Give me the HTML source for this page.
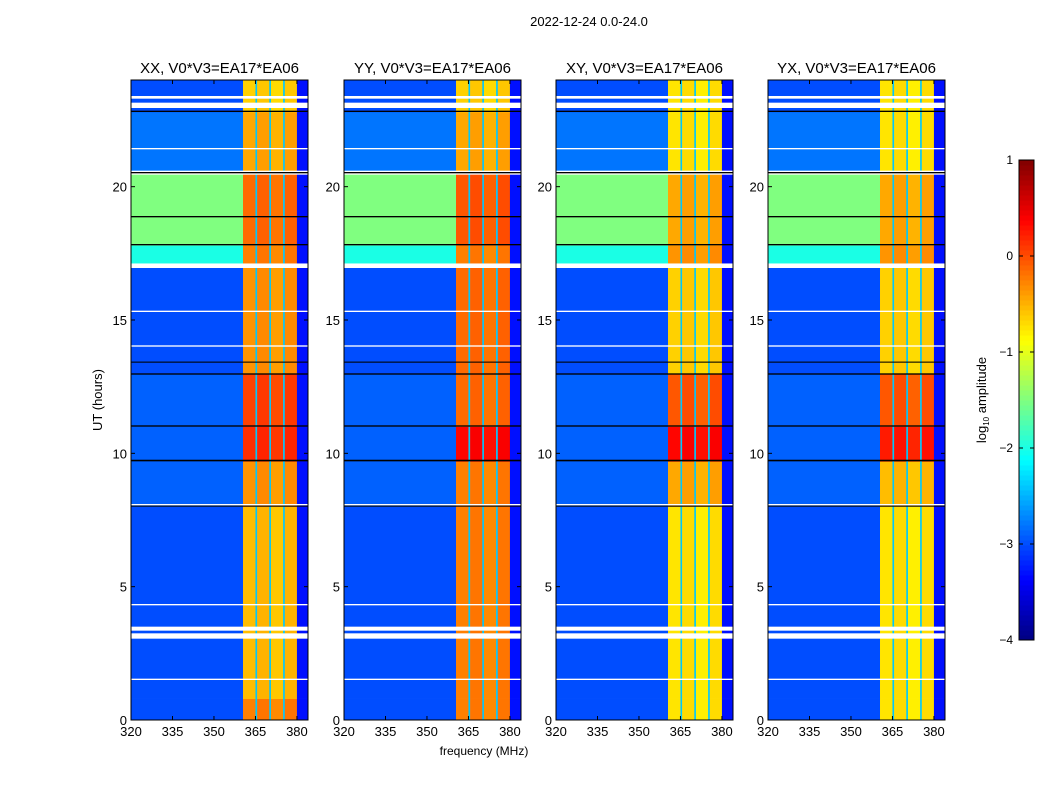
<!DOCTYPE html>
<html><head><meta charset="utf-8"><style>
body{margin:0;background:#fff;}
svg{display:block;font-family:"Liberation Sans","DejaVu Sans",sans-serif;}
</style></head><body>
<svg id="chart" width="1050" height="800" viewBox="0 0 1050 800" xmlns="http://www.w3.org/2000/svg">
<rect width="1050" height="800" fill="#fff"/>
<text x="589" y="26" font-size="13" text-anchor="middle">2022-12-24 0.0-24.0</text>
<text x="102" y="400" font-size="13" text-anchor="middle" transform="rotate(-90 102 400)">UT (hours)</text>
<text x="484" y="755" font-size="12" text-anchor="middle">frequency (MHz)</text>
<g id="panels"></g>
<g id="cbar"></g>
<text x="986" y="400" font-size="13" text-anchor="middle" transform="rotate(-90 986 400)">log<tspan font-size="8" dy="3">10</tspan><tspan dy="-3"> amplitude</tspan></text>
</svg>
<script>
// ---- data ----
const panelTitles = ["XX, V0*V3=EA17*EA06","YY, V0*V3=EA17*EA06","XY, V0*V3=EA17*EA06","YX, V0*V3=EA17*EA06"];
const bandStart = [0, 0.8, 8.0, 9.7, 11.0, 13.0, 17.0, 17.8, 20.5, 22.8];
const bandEnd   = [0.8, 8.0, 9.7, 11.0, 13.0, 17.0, 17.8, 20.5, 22.8, 24];
const lowLevel  = [-3.0, -3.0, -2.9, -2.9, -2.9, -3.0, -2.0, -1.5, -2.8, -3.0];
const highXX = [-0.3, -0.6, -0.4, 0.1, 0.0, -0.4, -0.3, -0.2, -0.5, -0.7];
const highYY = [-0.3, -0.3, -0.3, 0.3, -0.2, -0.2, -0.3, -0.1, -0.5, -0.7];
const highXY = [-0.8, -0.8, -0.5, 0.3, -0.1, -0.7, -0.4, -0.5, -0.8, -0.8];
const highYX = [-0.8, -0.8, -0.6, 0.2, -0.1, -0.7, -0.4, -0.5, -0.8, -0.8];
const segStart = [320, 360.5, 365.0, 365.6, 370.0, 370.6, 375.0, 375.6, 380.0];
const segEnd   = [360.5, 365.0, 365.6, 370.0, 370.6, 375.0, 375.6, 380.0, 384.0];
const segType  = ["low","high","div","high","div","high","div","high","edge"];
const segOffset= [0, 0.05, 0, 0.1, 0, 0, 0, 0.1, 0];
const flagStart = [3.05, 3.35, 16.95, 20.45, 22.95, 23.3, 8.05, 1.5, 4.3, 14.0, 15.3, 21.4];
const flagEnd   = [3.25, 3.5, 17.12, 20.6, 23.15, 23.4, 8.1, 1.55, 4.35, 14.05, 15.35, 21.45];
const blackStart = [8.0, 9.7, 11.0, 12.95, 17.8, 20.5, 22.8, 18.85, 13.4];
const blackEnd   = [8.04, 9.76, 11.05, 13.0, 17.85, 20.55, 22.85, 18.9, 13.44];
const xTicks = [320, 335, 350, 365, 380];
const yTicks = [0, 5, 10, 15, 20];
const cbTicks = [1, 0, -1, -2, -3, -4];
const cbLabels = ["1","0","\u22121","\u22122","\u22123","\u22124"];
// ---- layout ----
const NS = "http://www.w3.org/2000/svg";
const panelX = [131, 344, 556, 768], PW = 177, PY0 = 80, PY1 = 720;
const fmin = 320, fmax = 384, tmin = 0, tmax = 24, vmin = -4, vmax = 1;
function jet(v){
  let t = Math.max(0, Math.min(1, (v - vmin) / (vmax - vmin)));
  const c = x => Math.round(255 * Math.max(0, Math.min(1, 1.5 - Math.abs(4 * t - x))));
  return `rgb(${c(3)},${c(2)},${c(1)})`;
}
function mk(tag, attrs, parent){
  const e = document.createElementNS(NS, tag);
  for (const k in attrs) e.setAttribute(k, attrs[k]);
  parent.appendChild(e); return e;
}
const highs = [highXX, highYY, highXY, highYX];
const g = document.getElementById("panels");
panelX.forEach((px, p) => {
  const xs = f => px + (f - fmin) / (fmax - fmin) * PW;
  const ys = t => PY1 - (t - tmin) / (tmax - tmin) * (PY1 - PY0);
  const pg = mk("g", {}, g);
  
  
  bandStart.forEach((b0, bi) => {
    segStart.forEach((s0, si) => {
      let v;
      if (segType[si] === "low") v = lowLevel[bi];
      else if (segType[si] === "high") v = highs[p][bi] + segOffset[si];
      else if (segType[si] === "div") v = -2.4;
      else v = -3.3;
      const x0 = xs(s0), x1 = xs(segEnd[si]), y0 = ys(bandEnd[bi]), y1 = ys(b0);
      const r = mk("rect", {x: x0, y: y0, width: x1 - x0 + 0.3, height: y1 - y0 + 0.3, fill: jet(v)}, pg);
      
      
    });
  });
  flagStart.forEach((f0, i) => {
    const r = mk("rect", {x: px, y: ys(flagEnd[i]), width: PW, height: Math.max(1, ys(f0) - ys(flagEnd[i])), fill: "#fff"}, pg);
    
    
  });
  blackStart.forEach((f0, i) => {
    const r = mk("rect", {x: px, y: ys(blackEnd[i]), width: PW, height: Math.max(1, ys(f0) - ys(blackEnd[i])), fill: "#000"}, pg);
    
    
  });
  const fr = mk("rect", {x: px, y: PY0, width: PW, height: PY1 - PY0, fill: "none", stroke: "#000", "stroke-width": 1}, pg);
  
  
  const tt = mk("text", {x: px + PW / 2, y: 73, "font-size": 15, "text-anchor": "middle"}, pg);
  tt.textContent = panelTitles[p];
  
  
  xTicks.forEach(f => {
    const x = xs(f);
    mk("line", {x1: x, x2: x, y1: PY1, y2: PY1 - 4, stroke: "#000"}, pg);
    mk("line", {x1: x, x2: x, y1: PY0, y2: PY0 + 4, stroke: "#000"}, pg);
    const t = mk("text", {x: x, y: 736, "font-size": 13, "text-anchor": "middle"}, pg);
    t.textContent = f;
    
    
  });
  yTicks.forEach(v => {
    const y = ys(v);
    mk("line", {x1: px, x2: px + 4, y1: y, y2: y, stroke: "#000"}, pg);
    mk("line", {x1: px + PW, x2: px + PW - 4, y1: y, y2: y, stroke: "#000"}, pg);
    const t = mk("text", {x: px - 4, y: y + 5, "font-size": 13, "text-anchor": "end"}, pg);
    t.textContent = v;
    
    
  });
});
// colorbar
const cb = document.getElementById("cbar");
const CX = 1019, CW = 15, CY0 = 160, CY1 = 640;
const cys = v => CY1 - (v - vmin) / (vmax - vmin) * (CY1 - CY0);
for (let i = 0; i < 96; i++) {
  const v0 = vmin + i * (vmax - vmin) / 96, v1 = vmin + (i + 1) * (vmax - vmin) / 96;
  const r = mk("rect", {x: CX, y: cys(v1), width: CW, height: cys(v0) - cys(v1) + 0.5, fill: jet((v0 + v1) / 2)}, cb);
  
  
}
const cf = mk("rect", {x: CX, y: CY0, width: CW, height: CY1 - CY0, fill: "none", stroke: "#000"}, cb);


cbTicks.forEach((v, i) => {
  const y = cys(v);
  mk("line", {x1: CX, x2: CX + 4, y1: y, y2: y, stroke: "#000"}, cb);
  mk("line", {x1: CX + CW, x2: CX + CW - 4, y1: y, y2: y, stroke: "#000"}, cb);
  const t = mk("text", {x: 1013, y: y + 4, "font-size": 12, "text-anchor": "end"}, cb);
  t.textContent = cbLabels[i];
  
  
});
</script>
</body></html>
